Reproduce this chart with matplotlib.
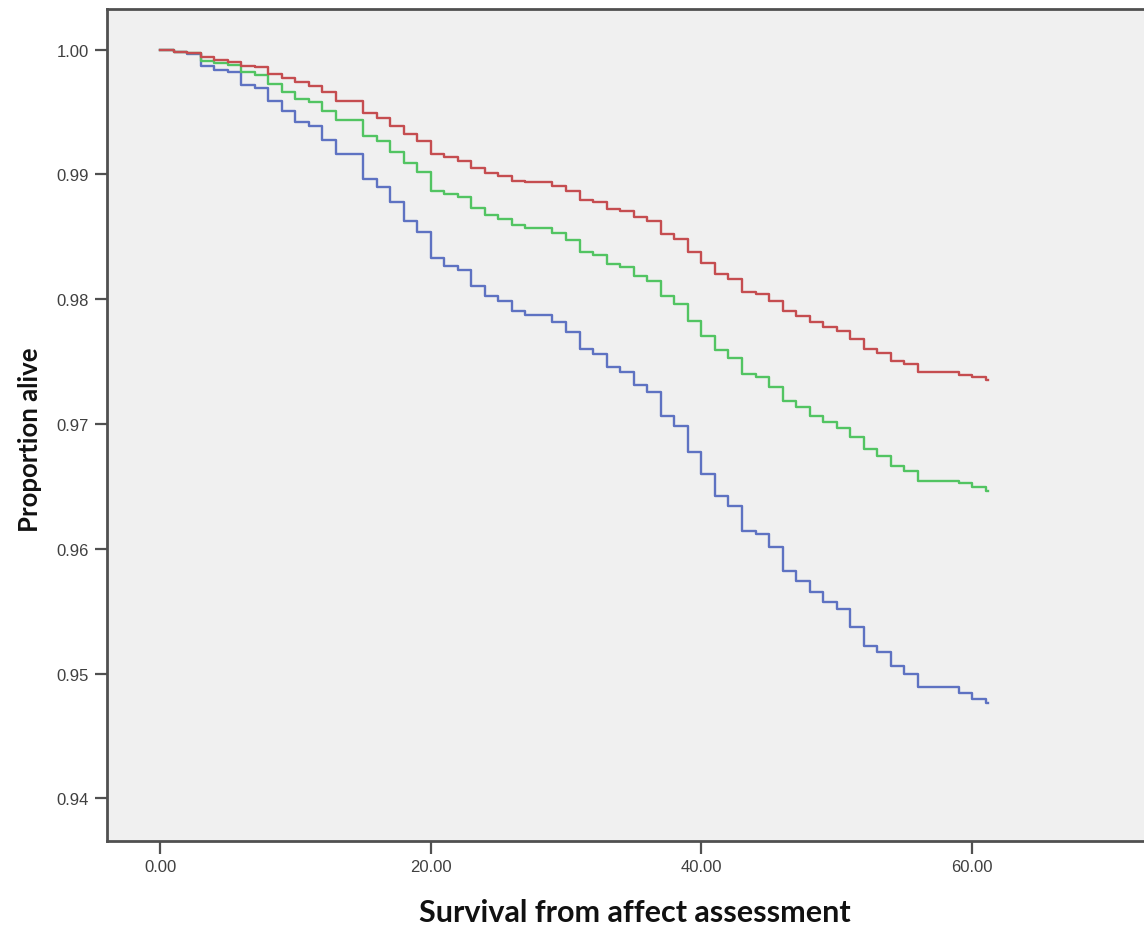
import numpy as np
import matplotlib
matplotlib.use("Agg")
import matplotlib.pyplot as plt

# event times (months) and survival estimates
t_red = [0, 1, 2, 3, 4, 5, 6, 7, 8, 9, 10, 11, 12, 13, 15, 16, 17, 18, 19, 20,
         21, 22, 23, 24, 25, 26, 27, 29, 30, 31, 32, 33, 34, 35, 36, 37, 38, 39, 40,
         41, 42, 43, 44, 45, 46, 47, 48, 49, 50, 51, 52, 53, 54, 55, 56, 59, 60, 61, 61.2]
s_red = [1.0, 0.99984, 0.99974, 0.99939, 0.99920, 0.99904, 0.99872, 0.99859, 0.99805,
         0.99771, 0.99739, 0.99707, 0.99659, 0.99591, 0.99493, 0.99450, 0.99386, 0.99324,
         0.99268, 0.99164, 0.99138, 0.99110, 0.99049, 0.99012, 0.98990, 0.98950, 0.98937,
         0.98910, 0.98870, 0.98798, 0.98777, 0.98723, 0.98710, 0.98657, 0.98629, 0.98523,
         0.98483, 0.98376, 0.98293, 0.98202, 0.98162, 0.98060, 0.98042, 0.97988, 0.97908,
         0.97868, 0.97820, 0.97775, 0.97748, 0.97681, 0.97601, 0.97569, 0.97507, 0.97481,
         0.97414, 0.97393, 0.97374, 0.97355, 0.97355]

t_green = t_red
s_green = [1.0, 0.99984, 0.99972, 0.99912, 0.99893, 0.99877, 0.99819, 0.99797, 0.99725,
           0.99663, 0.99605, 0.99583, 0.99511, 0.99439, 0.99311, 0.99271, 0.99178, 0.99092,
           0.99020, 0.98870, 0.98843, 0.98817, 0.98729, 0.98675, 0.98643, 0.98595, 0.98569,
           0.98531, 0.98477, 0.98381, 0.98355, 0.98282, 0.98256, 0.98189, 0.98149, 0.98024,
           0.97962, 0.97828, 0.97708, 0.97596, 0.97527, 0.97401, 0.97374, 0.97294, 0.97187,
           0.97134, 0.97067, 0.97014, 0.96968, 0.96896, 0.96800, 0.96744, 0.96663, 0.96623,
           0.96546, 0.96527, 0.96493, 0.96465, 0.96465]

t_blue = t_red
s_blue = [1.0, 0.99984, 0.99966, 0.99872, 0.99840, 0.99821, 0.99717, 0.99693, 0.99591,
          0.99511, 0.99423, 0.99388, 0.99279, 0.99164, 0.98964, 0.98900, 0.98779, 0.98629,
          0.98541, 0.98330, 0.98269, 0.98237, 0.98109, 0.98028, 0.97988, 0.97908, 0.97874,
          0.97820, 0.97740, 0.97601, 0.97561, 0.97455, 0.97419, 0.97313, 0.97254, 0.97067,
          0.96982, 0.96773, 0.96599, 0.96425, 0.96340, 0.96145, 0.96118, 0.96012, 0.95824,
          0.95744, 0.95656, 0.95576, 0.95517, 0.95371, 0.95223, 0.95170, 0.95058, 0.94996,
          0.94890, 0.94844, 0.94796, 0.94764, 0.94764]

xticks = [0, 20, 40, 60]
yticks = [0.94, 0.95, 0.96, 0.97, 0.98, 0.99, 1.00]

fig = plt.figure(figsize=(11.44, 9.28), dpi=100)
ax = fig.add_axes([0.0935, 0.0927, 0.912, 0.8965])
ax.set_facecolor("#f0f0f0")

ax.step(t_blue, s_blue, where="post", color="#5e72c2", lw=1.7)
ax.step(t_green, s_green, where="post", color="#52c462", lw=1.7)
ax.step(t_red, s_red, where="post", color="#c54d50", lw=1.7)

ax.set_xlim(-3.92, 73.17)
ax.set_ylim(0.93658, 1.00326)

ax.set_xticks(xticks)
ax.set_xticklabels(["%.2f" % v for v in xticks])
ax.set_yticks(yticks)
ax.set_yticklabels(["%.2f" % v for v in yticks])

for s in ax.spines.values():
    s.set_color("#505050")
    s.set_linewidth(2.0)
ax.tick_params(direction="out", length=9, width=1.6, color="#505050",
               labelsize=12, labelcolor="#404040", pad=4)
for lab in ax.get_xticklabels() + ax.get_yticklabels():
    lab.set_family("Liberation Sans")

ax.set_xlabel("Survival from affect assessment", fontsize=22, fontweight="bold",
              family="Lato", va="center", color="#111111")
ax.set_ylabel("Proportion alive", fontsize=18.5, fontweight="bold",
              family="Lato", va="center", color="#111111")
ax.xaxis.set_label_coords(0.506, -0.0853)
ax.yaxis.set_label_coords(-0.0738, 0.483)

fig.savefig("out.png", dpi=100)
